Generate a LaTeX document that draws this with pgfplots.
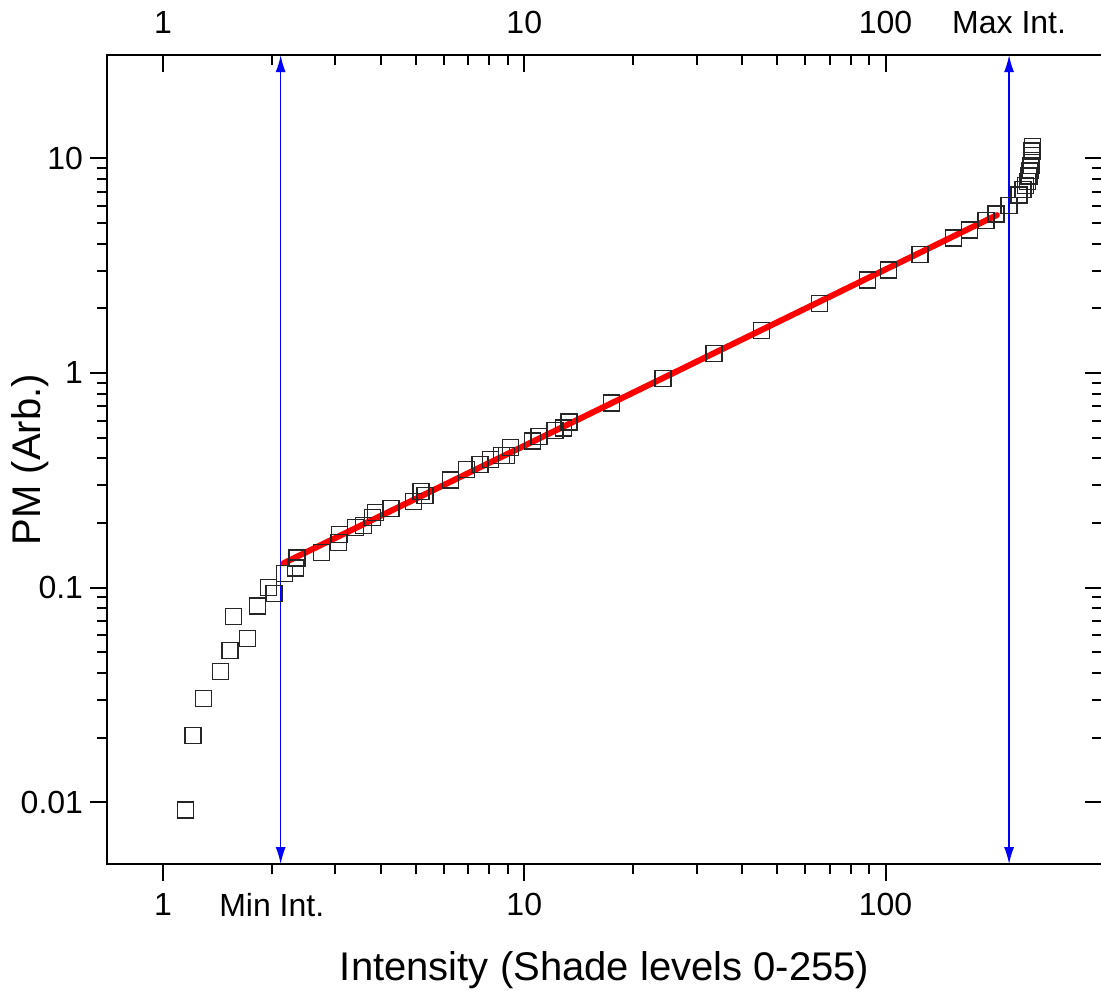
\documentclass[border=0pt]{standalone}
\usepackage{fontspec}
\setmainfont{Liberation Sans}
\usepackage{pgfplots}
\usepackage{pgfplotstable}
\pgfplotsset{compat=1.18}
\usetikzlibrary{arrows.meta}

\pgfplotstableread{
x y
1.153 0.0092
1.21 0.0204
1.296 0.0305
1.443 0.0407
1.532 0.0509
1.566 0.0731
1.712 0.058
1.827 0.0822
1.96 0.0999
2.03 0.094
2.17 0.1165
2.33 0.1235
2.35 0.1374
2.75 0.1455
3.06 0.1626
3.08 0.177
3.41 0.190
3.59 0.195
3.80 0.2126
3.88 0.223
4.28 0.233
4.94 0.252
5.18 0.281
5.31 0.268
6.25 0.317
6.92 0.355
7.54 0.374
8.07 0.395
8.65 0.413
8.93 0.413
9.17 0.448
10.54 0.481
10.98 0.504
12.15 0.539
12.82 0.555
13.30 0.590
17.44 0.725
24.2 0.944
33.5 1.234
45.4 1.576
65.6 2.11
89.2 2.71
102 3.02
124.5 3.56
154.5 4.26
170.5 4.64
189.7 5.13
202 5.51
219.8 6.04
234 6.75
240.3 7.16
244 7.45
247 7.82
249.5 8.28
251 8.75
252.5 9.24
253.5 9.75
254 10.3
254.5 10.8
254.7 11.39
}\pmdata

\begin{document}
\begin{tikzpicture}
\begin{axis}[name=ax,
  xmode=log, ymode=log, scale only axis, width=497.5pt, height=404.5pt,
  xmin=0.7, xmax=398, ymin=0.00514, ymax=30.3,
  xtick={1,10,100}, ytick={0.01,0.1,1,10},
  xticklabels={1,10,100}, yticklabels={0.01,0.1,1,10},
  axis line style={line width=1.2pt},
  major tick length=8.5pt, minor tick length=5pt,
  tick style={black, line width=1pt},
  tick label style={font=\fontsize{16}{19}\selectfont},
  xticklabel style={yshift=-2.5pt},
  /pgf/number format/assume math mode=true,
  tick align=outside, xtick pos=left, ytick pos=left,
  extra x ticks={2}, extra x tick labels={Min Int.},
  extra x tick style={major tick length=0pt, xticklabel style={yshift=-8.5pt}},
  xlabel={Intensity (Shade levels 0-255)}, ylabel={PM (Arb.)},
  label style={font=\fontsize{20}{24}\selectfont},
  xlabel style={yshift=-2pt},
  every axis y label/.style={at={(rel axis cs:-0.0774,0.5)}, rotate=90, anchor=center, font=\fontsize{20}{24}\selectfont},
]
\addplot[blue, line width=0.8pt, {Latex[length=8.5pt,width=5pt]}-{Latex[length=8.5pt,width=5pt]}] coordinates {(2.117,0.00514)(2.117,30.3)};
\addplot[blue, line width=0.8pt, {Latex[length=8.5pt,width=5pt]}-{Latex[length=8.5pt,width=5pt]}] coordinates {(219.8,0.00514)(219.8,30.3)};
\addplot[only marks, mark=square, mark size=4pt, mark options={line width=0.7pt, draw=black!85}] table {\pmdata};
\addplot[red, line width=3pt, line cap=round] coordinates {(2.155,0.1297)(203.4,5.44)};
\end{axis}
\begin{axis}[
  xmode=log, ymode=log, scale only axis, width=497.5pt, height=404.5pt,
  xmin=0.7, xmax=398, ymin=0.00514, ymax=30.3,
  xtick={1,10,100}, ytick={0.01,0.1,1,10},
  xticklabels={1,10,100}, yticklabels={,,,},
  axis line style={line width=1.2pt},
  major tick length=8.5pt, minor tick length=5pt,
  tick style={black, line width=1pt},
  tick label style={font=\fontsize{16}{19}\selectfont},
  xticklabel style={yshift=7pt},
  /pgf/number format/assume math mode=true,
  tick align=inside, xtick pos=right, ytick pos=right, xticklabel pos=right,
  extra x ticks={219.8}, extra x tick labels={Max Int.},
  extra x tick style={major tick length=0pt},
]
\addplot[draw=none] coordinates {(1,1)};
\end{axis}
\pgfresetboundingbox
\path ([xshift=-53.5pt,yshift=-63pt]ax.south west) rectangle ([xshift=-0.6pt,yshift=27.5pt]ax.north east);
\end{tikzpicture}
\end{document}
